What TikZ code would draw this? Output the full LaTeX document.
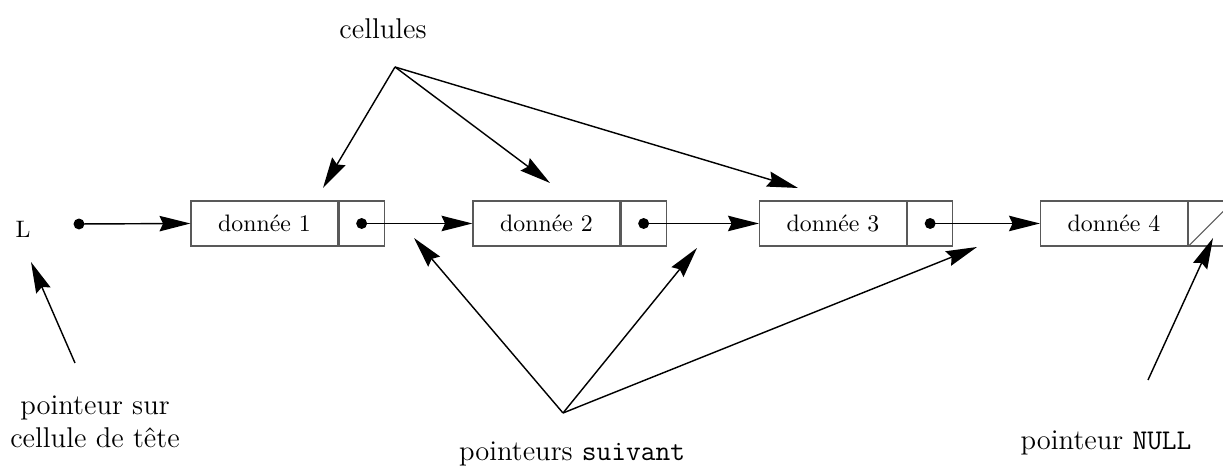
\documentclass[tikz,border=0pt]{standalone}
\usetikzlibrary{arrows.meta}
\begin{document}
\begin{tikzpicture}[x=0.42pt,y=-0.42pt,
  databox/.style={draw=black!65, line width=0.5pt, minimum width=61.7pt, minimum height=18.9pt, inner sep=0pt, font=\normalsize},
  ptrbox/.style={draw=black!65, line width=0.5pt, minimum width=18.9pt, minimum height=18.9pt, inner sep=0pt},
  link/.style={-{Stealth[length=13pt,width=6.5pt,inset=1.5pt]}, line width=0.6pt},
  dotnode/.style={circle, fill, inner sep=0pt, minimum size=4.6pt},
  lbl/.style={font=\large, inner sep=0pt}]
\useasboundingbox (0,0) rectangle (1223,468);
% cells
\node[databox] (d1) at (264.5,223.5) {donnée 1};
\node[ptrbox, anchor=west] (p1) at (d1.east) {};
\node[databox] (d2) at (546.5,223.5) {donnée 2};
\node[ptrbox, anchor=west] (p2) at (d2.east) {};
\node[databox] (d3) at (833,223.5) {donnée 3};
\node[ptrbox, anchor=west] (p3) at (d3.east) {};
\node[databox] (d4) at (1114,223.5) {donnée 4};
\node[ptrbox, anchor=west] (p4) at (d4.east) {};
\draw[black!65, line width=0.5pt] (p4.south west) -- (p4.north east);
% dots
\node[dotnode] (dL) at (79,224) {};
\node[dotnode] (dp1) at (p1.center) {};
\node[dotnode] (dp2) at (p2.center) {};
\node[dotnode] (dp3) at (p3.center) {};
% links
\draw[link] (dL.center) -- (d1.west);
\draw[link] (dp1.center) -- (d2.west);
\draw[link] (dp2.center) -- (d3.west);
\draw[link] (dp3.center) -- (d4.west);
% labels
\node[font=\normalsize, inner sep=0pt] (L) at (23,229) {L};
\node[lbl] (cel) at (383,29) {cellules};
\node[lbl, align=center] (pst) at (95,422) {pointeur sur\\cellule de tête};
\node[lbl] (ps) at (572,454) {pointeurs \texttt{suivant}};
\node[lbl] (pn) at (1106,443) {pointeur \texttt{NULL}};
% cellules arrows
\coordinate (cA) at (395,67);
\coordinate (cT1) at (323,188);
\coordinate (cT2) at (550,183);
\coordinate (cT3) at (798,188);
\draw[link] (cA) -- (cT1);
\draw[link] (cA) -- (cT2);
\draw[link] (cA) -- (cT3);
% pointeurs suivant arrows
\coordinate (sA) at (563,413);
\coordinate (sT1) at (414,238);
\coordinate (sT2) at (697,248);
\coordinate (sT3) at (977,247);
\draw[link] (sA) -- (sT1);
\draw[link] (sA) -- (sT2);
\draw[link] (sA) -- (sT3);
% head pointer arrow
\coordinate (hA) at (75,363);
\coordinate (hT) at (31,262);
\draw[link] (hA) -- (hT);
% null arrow
\coordinate (nA) at (1148,380);
\coordinate (nT) at (1213,238);
\draw[link] (nA) -- (nT);
\end{tikzpicture}
\end{document}
